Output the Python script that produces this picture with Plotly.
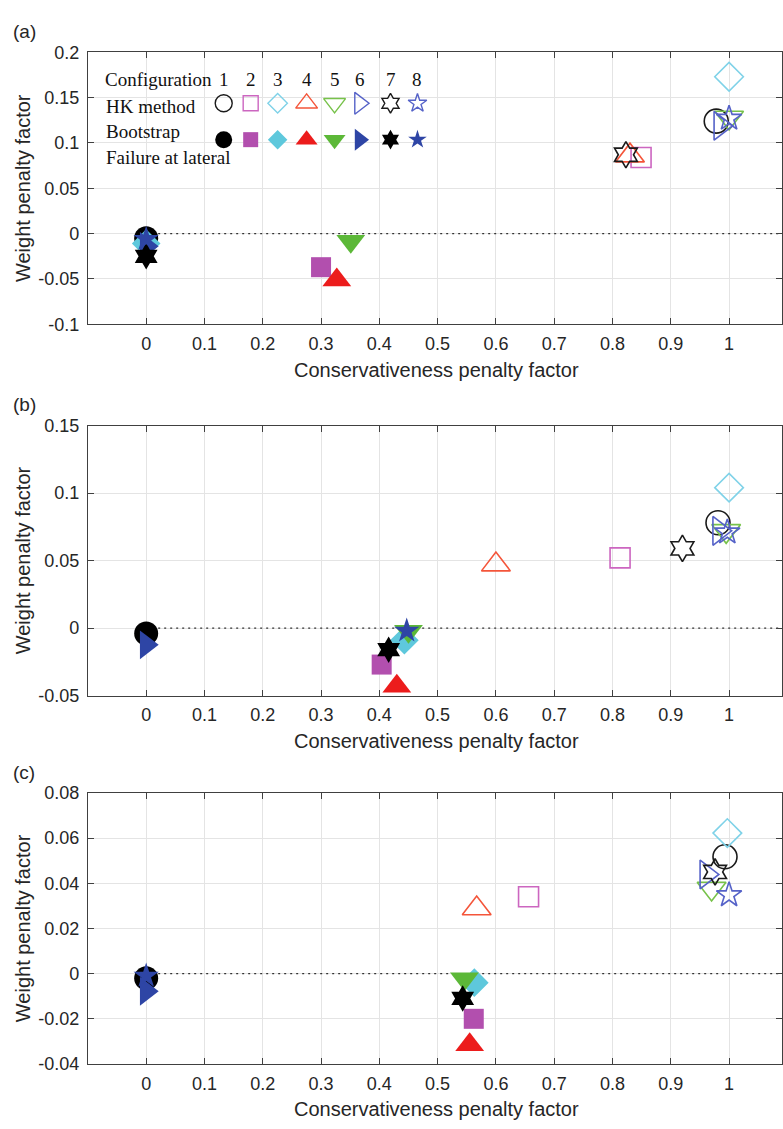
import plotly.graph_objects as go

W, H = 783, 1129

# ---- data -------------------------------------------------------------
CONFIGS = ["1", "2", "3", "4", "5", "6", "7", "8"]
SYMBOLS = ["circle", "square", "diamond", "triangle-up", "triangle-down",
           "triangle-right", "hexagram", "star"]
HK_COLORS = ["#1a1a1a", "#cc66c0", "#7fd2e8", "#f4553a", "#77c24a",
             "#5562c8", "#1a1a1a", "#5562c8"]
BS_COLORS = ["#000000", "#b24fae", "#5ec8dc", "#ec1c1c", "#5cb838",
             "#2e45a5", "#000000", "#2e45a5"]

# panel (a)
A_HK_X = [0.978, 0.849, 1.0, 0.83, 1.0, 0.985, 0.823, 1.0]
A_HK_Y = [0.124, 0.084, 0.173, 0.086, 0.128, 0.119, 0.087, 0.127]
A_BS_X = [0.0, 0.30, 0.0, 0.327, 0.351, 0.0, 0.0, 0.0]
A_BS_Y = [-0.005, -0.037, -0.011, -0.051, -0.0084, -0.014, -0.025, -0.006]

# panel (b)
B_HK_X = [0.981, 0.813, 1.0, 0.60, 0.995, 0.983, 0.92, 0.997]
B_HK_Y = [0.078, 0.052, 0.104, 0.047, 0.072, 0.072, 0.059, 0.071]
B_BS_X = [0.0, 0.404, 0.443, 0.43, 0.45, 0.0, 0.416, 0.447]
B_BS_Y = [-0.004, -0.027, -0.009, -0.043, -0.0024, -0.0124, -0.016, -0.002]

# panel (c)
C_HK_X = [0.993, 0.656, 0.997, 0.567, 0.97, 0.961, 0.976, 1.0]
C_HK_Y = [0.0517, 0.034, 0.0622, 0.0288, 0.0377, 0.0439, 0.045, 0.0348]
C_BS_X = [0.0, 0.562, 0.563, 0.555, 0.546, 0.0, 0.543, 0.0]
C_BS_Y = [-0.002, -0.020, -0.004, -0.0315, -0.0023, -0.0078, -0.011, -0.001]

X_TICKS = [0, 0.1, 0.2, 0.3, 0.4, 0.5, 0.6, 0.7, 0.8, 0.9, 1.0]
A_YTICKS = [-0.1, -0.05, 0, 0.05, 0.1, 0.15, 0.2]
B_YTICKS = [-0.05, 0, 0.05, 0.1, 0.15]
C_YTICKS = [-0.04, -0.02, 0, 0.02, 0.04, 0.06, 0.08]

PANEL_LABELS = ["(a)", "(b)", "(c)"]
X_TITLE = "Conservativeness penalty factor"
Y_TITLE = "Weight penalty factor"
LEGEND_HEADER = "Configuration"
ROW_LABELS = ["HK method", "Bootstrap", "Failure at lateral"]

# ---- styling ----------------------------------------------------------
MARKER_SIZES = [24, 20, 22, 25, 25, 25, 20, 19]
LEGEND_SIZES = [17, 15, 15, 19, 19, 19, 15, 14]
SANS = "Liberation Sans, Arial, sans-serif"
SERIF = "Liberation Serif, Times New Roman, serif"
TXT = "#262626"
AX = "#404040"
GRID = "#e4e4e4"
X_RANGE = [-0.1, 1.0908]

# panel boxes in page pixels (top, bottom); plot area spans x 88 -> right edge
PANEL_PX = [(43, 320), (423, 698), (797, 1073)]
LEFT_PX = 88


def px_x(x):
    return x / W


def px_y(y):
    return 1 - y / H


panels = [
    (A_HK_X, A_HK_Y, A_BS_X, A_BS_Y, A_YTICKS),
    (B_HK_X, B_HK_Y, B_BS_X, B_BS_Y, B_YTICKS),
    (C_HK_X, C_HK_Y, C_BS_X, C_BS_Y, C_YTICKS),
]

fig = go.Figure()
layout = dict(
    width=W, height=H, margin=dict(l=0, r=0, t=0, b=0),
    paper_bgcolor="white", plot_bgcolor="rgba(0,0,0,0)", showlegend=False,
    font=dict(family=SANS, color=TXT),
)
annotations = []

for i, (hx, hy, bx, by, yt) in enumerate(panels):
    n = "" if i == 0 else str(i + 1)
    xa, ya = "x" + n, "y" + n
    top, bot = PANEL_PX[i]

    # dotted zero reference
    fig.add_trace(go.Scatter(
        x=[0, X_RANGE[1]], y=[0, 0], mode="lines", xaxis=xa, yaxis=ya,
        line=dict(color="#333333", width=1.3, dash="2px,4px"),
        hoverinfo="skip"))

    # HK method (open markers)
    fig.add_trace(go.Scatter(
        x=hx, y=hy, mode="markers", xaxis=xa, yaxis=ya, cliponaxis=False,
        marker=dict(symbol=[s + "-open" for s in SYMBOLS], size=MARKER_SIZES,
                    color=HK_COLORS, opacity=1,
                    line=dict(width=1.6, color=HK_COLORS))))
    # Bootstrap (filled markers)
    fig.add_trace(go.Scatter(
        x=bx, y=by, mode="markers", xaxis=xa, yaxis=ya, cliponaxis=False,
        marker=dict(symbol=SYMBOLS, size=MARKER_SIZES, color=BS_COLORS,
                    opacity=1, line=dict(width=0))))

    ydom = [px_y(bot), px_y(top)]
    common = dict(showline=True, linecolor=AX, linewidth=1, mirror="ticks",
                  ticks="inside", ticklen=6, tickcolor=AX, tickwidth=1,
                  showgrid=True, gridcolor=GRID, gridwidth=1, zeroline=False,
                  tickfont=dict(family=SANS, size=18, color=TXT))
    layout["xaxis" + n] = dict(
        domain=[px_x(LEFT_PX), 1], range=X_RANGE, anchor=ya,
        tickvals=X_TICKS, ticktext=[f"{v:g}" for v in X_TICKS],
        ticklabelstandoff=3, **common)
    layout["yaxis" + n] = dict(
        domain=ydom, range=[yt[0], yt[-1]], anchor=xa,
        tickvals=yt, ticktext=[f"{v:g}" for v in yt], ticklabelstandoff=4,
        title=dict(text=Y_TITLE, font=dict(family=SANS, size=20, color=TXT),
                   standoff=2),
        **common)

    annotations.append(dict(
        text=X_TITLE, xref="paper", yref="paper",
        x=px_x((LEFT_PX + W) / 2 + 2), y=px_y(bot + 46),
        xanchor="center", yanchor="middle", showarrow=False,
        font=dict(family=SANS, size=20, color=TXT)))
    annotations.append(dict(
        text=PANEL_LABELS[i], xref="paper", yref="paper",
        x=px_x(11), y=px_y(top - 21), xanchor="left", yanchor="middle",
        showarrow=False, font=dict(family=SANS, size=19, color=TXT)))

# ---- configuration key drawn inside panel (a) ---------------------------
COL_PX = [224, 251, 278, 307, 335, 360, 391, 418]
HEADER_Y, HK_ROW_Y, BS_ROW_Y = 71, 95, 132
TEXT_X = 103

layout["xaxis4"] = dict(domain=[0, 1], range=[0, W], visible=False,
                        anchor="y4", fixedrange=True)
layout["yaxis4"] = dict(domain=[0, 1], range=[H, 0], visible=False,
                        anchor="x4", fixedrange=True)
fig.add_trace(go.Scatter(
    x=COL_PX, y=[HK_ROW_Y] * 8, mode="markers", xaxis="x4", yaxis="y4",
    marker=dict(symbol=[s + "-open" for s in SYMBOLS], size=LEGEND_SIZES,
                color=HK_COLORS, opacity=1,
                line=dict(width=1.4, color=HK_COLORS)),
    hoverinfo="skip"))
fig.add_trace(go.Scatter(
    x=COL_PX, y=[BS_ROW_Y] * 8, mode="markers", xaxis="x4", yaxis="y4",
    marker=dict(symbol=SYMBOLS, size=LEGEND_SIZES, color=BS_COLORS,
                opacity=1, line=dict(width=0)),
    hoverinfo="skip"))

annotations.append(dict(
    text=LEGEND_HEADER, xref="paper", yref="paper", x=px_x(TEXT_X),
    y=px_y(HEADER_Y), xanchor="left", yanchor="middle", showarrow=False,
    font=dict(family=SERIF, size=19, color="#111111")))
for cfg, cx in zip(CONFIGS, COL_PX):
    annotations.append(dict(
        text=cfg, xref="paper", yref="paper", x=px_x(cx), y=px_y(HEADER_Y),
        xanchor="center", yanchor="middle", showarrow=False,
        font=dict(family=SERIF, size=19, color="#111111")))
for label, ly in zip(ROW_LABELS, [98, 124, 150]):
    annotations.append(dict(
        text=label, xref="paper", yref="paper", x=px_x(TEXT_X + 1),
        y=px_y(ly), xanchor="left", yanchor="middle", showarrow=False,
        font=dict(family=SERIF, size=19, color="#111111")))

layout["annotations"] = annotations
fig.update_layout(**layout)
fig.write_html("out.html")
